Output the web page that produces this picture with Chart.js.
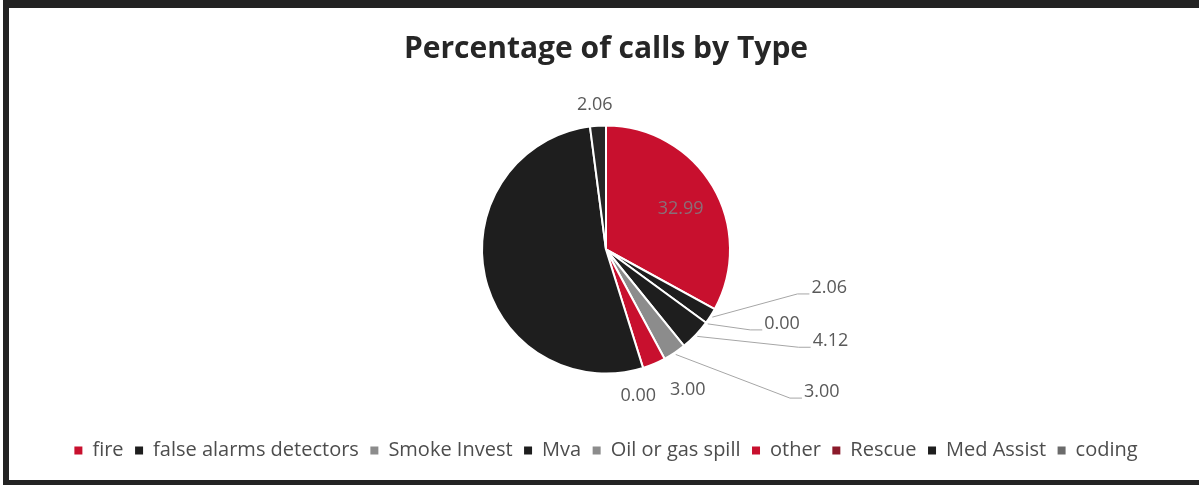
<!DOCTYPE html>
<html>
<head>
<meta charset="utf-8">
<script src="https://cdn.jsdelivr.net/npm/chart.js@4.4.1/dist/chart.umd.min.js"></script>
<style>
    html, body { margin: 0; padding: 0; background: #fff; }
    #frame {
        position: absolute; left: 3px; top: 0; width: 1196px; height: 485px;
        box-sizing: border-box;
        border-top: 8px solid #232323; border-left: 6px solid #232323; border-bottom: 5px solid #232323;
        background: #fff;
    }
    #wrap { position: absolute; left: 0; top: 0; width: 1190px; height: 472px; }
</style>
</head>
<body>
<div id="frame"><div id="wrap"><canvas id="typeChart"></canvas></div></div>
<script>
// 数据
const categories = ['fire', 'false alarms detectors', 'Smoke Invest', 'Mva', 'Oil or gas spill', 'other', 'Rescue', 'Med Assist', 'coding'];
const percentages = [32.99, 2.06, 0.00, 4.12, 3.00, 3.00, 0.00, 52.77, 2.06];
const valueLabels = ['32.99', '2.06', '0.00', '4.12', '3.00', '3.00', '0.00', '', '2.06'];

// 颜色
const sliceColors = ['#c8102e', '#1e1e1e', '#8c8c8c', '#1e1e1e', '#8c8c8c', '#c8102e', '#8b1a2a', '#1e1e1e', '#262626'];
const legendColors = ['#c8102e', '#1e1e1e', '#8c8c8c', '#1e1e1e', '#8c8c8c', '#c8102e', '#8b1a2a', '#1e1e1e', '#6b6b6b'];

// 标签位置（相对半径）
const labelLayout = [
    { mode: 'inside', at: 0.7 },
    { mode: 'callout', dx: 1.80, dy: 0.31 },
    { mode: 'callout', dx: 1.42, dy: 0.60 },
    { mode: 'callout', dx: 1.81, dy: 0.74 },
    { mode: 'callout', dx: 1.74, dy: 1.15 },
    { mode: 'free', dx: 0.66, dy: 1.13 },
    { mode: 'free', dx: 0.26, dy: 1.18 },
    { mode: 'none' },
    { mode: 'free', dx: -0.09, dy: -1.17 }
];

const sliceLabels = {
    id: 'sliceLabels',
    afterDatasetsDraw(chart) {
        const ctx = chart.ctx;
        const arcs = chart.getDatasetMeta(0).data;
        ctx.save();
        ctx.font = '18px "Open Sans"';
        ctx.textAlign = 'center';
        ctx.textBaseline = 'middle';
        arcs.forEach((arc, i) => {
            const p = arc.getProps(['x', 'y', 'startAngle', 'endAngle', 'outerRadius'], true);
            const lay = labelLayout[i];
            const r = p.outerRadius;
            const mid = (p.startAngle + p.endAngle) / 2;
            if (lay.mode === 'none') return;
            if (lay.mode === 'inside') {
                ctx.fillStyle = '#8a6f78';
                ctx.fillText(valueLabels[i], p.x + Math.cos(mid) * r * lay.at, p.y + Math.sin(mid) * r * lay.at + 4);
                return;
            }
            const lx = p.x + lay.dx * r;
            const ly = p.y + lay.dy * r;
            if (lay.mode === 'callout') {
                const w = ctx.measureText(valueLabels[i]).width;
                ctx.strokeStyle = '#a6a6a6';
                ctx.lineWidth = 1;
                ctx.beginPath();
                ctx.moveTo(p.x + Math.cos(mid) * (r + 2), p.y + Math.sin(mid) * (r + 2));
                ctx.lineTo(lx - w / 2 - 14, ly + 6);
                ctx.lineTo(lx - w / 2 - 2, ly + 6);
                ctx.stroke();
            }
            ctx.fillStyle = '#595959';
            ctx.fillText(valueLabels[i], lx, ly);
        });
        ctx.restore();
    }
};

const typeCtx = document.getElementById('typeChart').getContext('2d');
new Chart(typeCtx, {
    type: 'pie',
    data: {
        labels: categories,
        datasets: [{
            data: percentages,
            backgroundColor: sliceColors,
            borderColor: '#ffffff',
            borderWidth: 2,
            radius: 124
        }]
    },
    options: {
        responsive: true,
        maintainAspectRatio: false,
        animation: false,
        layout: { padding: { top: 8, bottom: 9.5, left: 4, right: 0 } },
        plugins: {
            title: {
                display: true,
                text: 'Percentage of calls by Type',
                color: '#262626',
                font: { family: 'Open Sans', size: 30, weight: 'bold' },
                padding: { top: 15, bottom: 3 }
            },
            legend: {
                position: 'bottom',
                labels: {
                    boxWidth: 8,
                    boxHeight: 8,
                    padding: 11.5,
                    color: '#4d4d4d',
                    font: { family: 'Open Sans', size: 20 },
                    generateLabels: (chart) => categories.map((c, i) => ({
                        text: c,
                        fillStyle: legendColors[i],
                        strokeStyle: legendColors[i],
                        lineWidth: 0,
                        hidden: false,
                        index: i,
                        fontColor: '#4d4d4d'
                    }))
                }
            },
            tooltip: { enabled: false }
        }
    },
    plugins: [sliceLabels]
});
</script>
</body>
</html>
